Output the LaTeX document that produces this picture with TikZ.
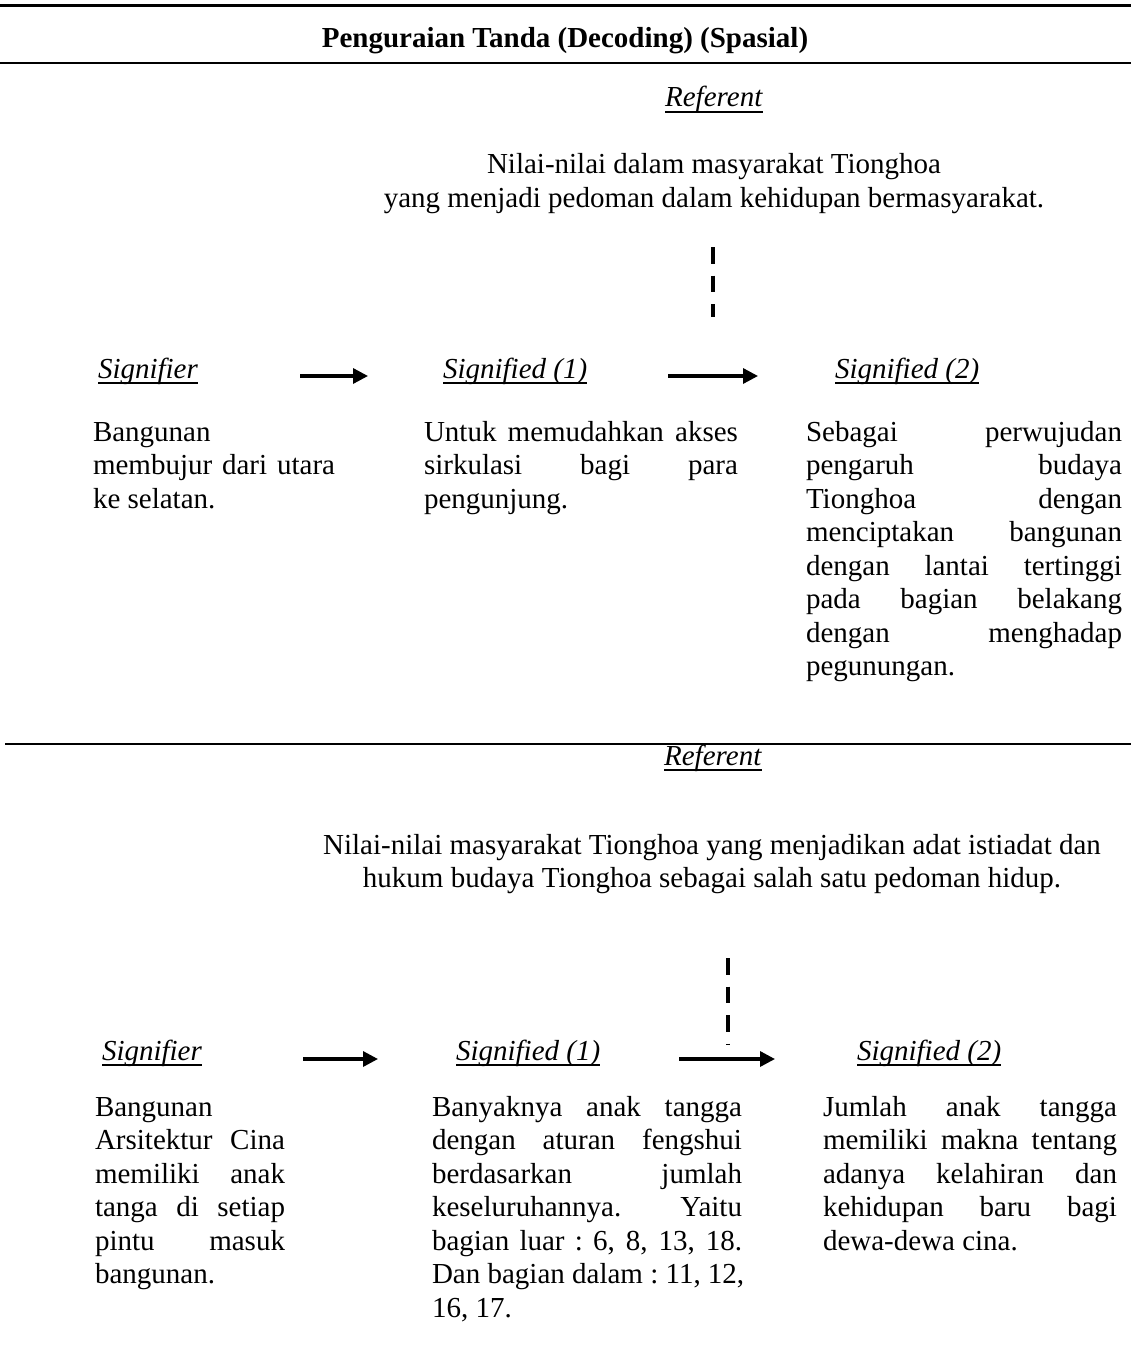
\documentclass[tikz,border=0pt]{standalone}
\usepackage{fontspec}
\setmainfont{Liberation Serif}
\usetikzlibrary{arrows.meta}
\newcommand\nsp{\spaceskip=0.25em\xspaceskip=0.25em\relax}
\newcommand\jl[2]{\makebox[#1][s]{\spaceskip=0.25em plus 1fill\xspaceskip=0.25em plus 1fill\relax #2}}
\newcommand\ulw[1]{\setbox0=\hbox{#1}\rlap{\rule[-6pt]{\wd0}{1.6pt}}\box0}
\begin{document}
\begin{tikzpicture}[x=1pt,y=-1pt,
  font=\fontsize{29}{33.5}\selectfont,
  every node/.style={inner sep=0pt, outer sep=0pt},
  lbl/.style={anchor=base west},
  para/.style={anchor=base west, align=left},
  cen/.style={anchor=base, align=center},
  hrule/.style={line width=2pt},
  flow/.style={line width=3.3pt, -{Triangle[length=15pt,width=15pt]}},
  refline/.style={line width=4pt, dash pattern=on 16.5pt off 12pt}]
\useasboundingbox (0,0) rectangle (1131,1367);
\fill[white] (0,0) rectangle (1131,1367);

% rules
\coordinate (r1a) at (0,6);   \coordinate (r1b) at (1131,6);
\coordinate (r2a) at (0,63);  \coordinate (r2b) at (1131,63);
\coordinate (r3a) at (5,744); \coordinate (r3b) at (1131,744);
\draw[line width=3pt] (r1a) -- (r1b);
\draw[hrule] (r2a) -- (r2b);
\draw[hrule] (r3a) -- (r3b);

% title
\node[cen] (title) at (565,48) {\nsp\textbf{Penguraian Tanda (Decoding) (Spasial)}};

% ---------- section 1 ----------
\node[cen] (ref1) at (714,107) {\ulw{\textit{Referent}}};
\node[cen, text width=800pt] (val1) at (714,174)
  {\nsp Nilai-nilai dalam masyarakat Tionghoa\\ yang menjadi pedoman dalam kehidupan bermasyarakat.};
\coordinate (d1a) at (713,247); \coordinate (d1b) at (713,317);
\draw[refline] (d1a) -- (d1b);

\node[lbl] (sr1) at (98,378) {\ulw{\textit{Signifier}}};
\node[lbl] (sa1) at (443,378) {\ulw{\nsp\textit{Signified (1)}}};
\node[lbl] (sb1) at (835,378) {\ulw{\nsp\textit{Signified (2)}}};
\coordinate (a1s) at (300,376); \coordinate (a1e) at (368,376);
\coordinate (a2s) at (668,376); \coordinate (a2e) at (758,376);
\draw[flow] (a1s) -- (a1e);
\draw[flow] (a2s) -- (a2e);

\node[para, text width=242pt] (p1a) at (93,441)
  {\nsp Bangunan\\ \jl{242pt}{membujur dari utara}\\ ke selatan.};
\node[para, text width=314pt] (p1b) at (424,441)
  {\nsp\jl{314pt}{Untuk memudahkan akses}\\ \jl{314pt}{sirkulasi bagi para}\\ pengunjung.};
\node[para, text width=316pt] (p1c) at (806,441)
  {\nsp\jl{316pt}{Sebagai perwujudan}\\ \jl{316pt}{pengaruh budaya}\\ \jl{316pt}{Tionghoa dengan}\\ \jl{316pt}{menciptakan bangunan}\\
   \jl{316pt}{dengan lantai tertinggi}\\ \jl{316pt}{pada bagian belakang}\\ \jl{316pt}{dengan menghadap}\\ pegunungan.};

% ---------- section 2 ----------
\node[cen] (ref2) at (713,765) {\ulw{\textit{Referent}}};
\node[cen, text width=900pt] (val2) at (712,854)
  {\nsp Nilai-nilai masyarakat Tionghoa yang menjadikan adat istiadat dan\\ hukum budaya Tionghoa sebagai salah satu pedoman hidup.};
\coordinate (d2a) at (728,958); \coordinate (d2b) at (728,1044);
\draw[refline] (d2a) -- (d2b);

\node[lbl] (sr2) at (102,1060) {\ulw{\textit{Signifier}}};
\node[lbl] (sa2) at (456,1060) {\ulw{\nsp\textit{Signified (1)}}};
\node[lbl] (sb2) at (857,1060) {\ulw{\nsp\textit{Signified (2)}}};
\coordinate (b1s) at (303,1059); \coordinate (b1e) at (378,1059);
\coordinate (b2s) at (679,1059); \coordinate (b2e) at (775,1059);
\draw[flow] (b1s) -- (b1e);
\draw[flow] (b2s) -- (b2e);

\node[para, text width=190pt] (p2a) at (95,1116)
  {\nsp Bangunan\\ \jl{190pt}{Arsitektur Cina}\\ \jl{190pt}{memiliki anak}\\ \jl{190pt}{tanga di setiap}\\ \jl{190pt}{pintu masuk}\\ bangunan.};
\node[para, text width=310pt] (p2b) at (432,1116)
  {\nsp\jl{310pt}{Banyaknya anak tangga}\\ \jl{310pt}{dengan aturan fengshui}\\ \jl{310pt}{berdasarkan jumlah}\\ \jl{310pt}{keseluruhannya. Yaitu}\\
   \jl{310pt}{bagian luar : 6, 8, 13, 18.}\\ \jl{310pt}{Dan bagian dalam : 11, 12,}\\ 16, 17.};
\node[para, text width=294pt] (p2c) at (823,1116)
  {\nsp\jl{294pt}{Jumlah anak tangga}\\ \jl{294pt}{memiliki makna tentang}\\ \jl{294pt}{adanya kelahiran dan}\\ \jl{294pt}{kehidupan baru bagi}\\ dewa-dewa cina.};
\end{tikzpicture}
\end{document}
